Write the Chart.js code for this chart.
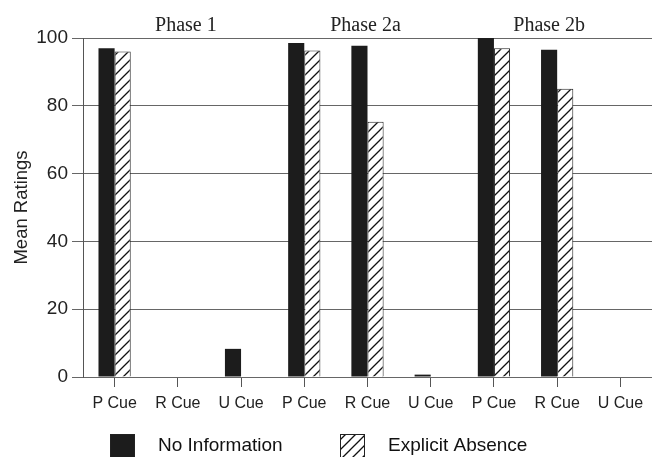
<!DOCTYPE html>
<html>
<head>
<meta charset="utf-8">
<script src="https://cdn.jsdelivr.net/npm/chart.js@4.4.0/dist/chart.umd.min.js"></script>
<style>
    html, body { margin: 0; padding: 0; background: #fff; }
    #wrap { width: 652px; height: 457px; position: relative; }
</style>
</head>
<body>
<div id="wrap"><canvas id="chart"></canvas></div>
<script>
var cueLabels = ['P Cue', 'R Cue', 'U Cue', 'P Cue', 'R Cue', 'U Cue', 'P Cue', 'R Cue', 'U Cue'];
var phaseLabels = ['Phase 1', 'Phase 2a', 'Phase 2b'];
var noInformation = [97, 0, 8.3, 98.5, 97.7, 0.7, 100, 96.5, 0];
var explicitAbsence = [96, 0, 0, 96.3, 75.3, 0, 97, 85, 0];
var yTicks = [0, 20, 40, 60, 80, 100];

var sansFont = '"Liberation Sans", Arial, sans-serif';

function makeHatch() {
    var c = document.createElement('canvas');
    c.width = 10;
    c.height = 10;
    var g = c.getContext('2d');
    g.fillStyle = '#fff';
    g.fillRect(0, 0, 10, 10);
    g.strokeStyle = '#111';
    g.lineWidth = 1.3;
    g.beginPath();
    g.moveTo(-1, 11); g.lineTo(11, -1);
    g.moveTo(-6, 6); g.lineTo(6, -6);
    g.moveTo(4, 16); g.lineTo(16, 4);
    g.stroke();
    return g.createPattern(c, 'repeat');
}

// phase titles above each group of three cues
var phasePlugin = {
    id: 'phaseTitles',
    afterDraw: function (chart) {
        var ctx = chart.ctx;
        var x = chart.scales.x;
        var shift = [8, -2, -8];
        ctx.save();
        ctx.font = '20px "Liberation Serif", "Times New Roman", serif';
        ctx.fillStyle = '#222';
        ctx.textAlign = 'center';
        ctx.textBaseline = 'alphabetic';
        for (var i = 0; i < phaseLabels.length; i++) {
            ctx.fillText(phaseLabels[i], x.getPixelForValue(i * 3 + 1) + shift[i], 31);
        }
        ctx.restore();
    }
};

// legend drawn under the axis, like the printed figure
var legendPlugin = {
    id: 'bottomLegend',
    afterDraw: function (chart) {
        var ctx = chart.ctx;
        var sets = chart.data.datasets;
        var boxX = [110, 340];
        ctx.save();
        ctx.font = '19px ' + sansFont;
        ctx.textBaseline = 'middle';
        for (var i = 0; i < sets.length; i++) {
            ctx.fillStyle = sets[i].backgroundColor;
            ctx.fillRect(boxX[i], 434, 25, 24);
            ctx.strokeStyle = '#222';
            ctx.lineWidth = 1;
            ctx.strokeRect(boxX[i] + 0.5, 434.5, 24, 23);
            ctx.fillStyle = '#111';
            ctx.fillText(sets[i].label, boxX[i] + 48, 446);
        }
        ctx.restore();
    }
};

var hatch = makeHatch();

new Chart(document.getElementById('chart').getContext('2d'), {
    type: 'bar',
    data: {
        labels: cueLabels,
        datasets: [
            {
                label: 'No Information',
                data: noInformation,
                backgroundColor: '#1c1c1c',
                borderColor: '#1c1c1c',
                borderWidth: 0
            },
            {
                label: 'Explicit Absence',
                data: explicitAbsence,
                backgroundColor: hatch,
                borderColor: '#222',
                borderWidth: 1
            }
        ]
    },
    options: {
        responsive: true,
        maintainAspectRatio: false,
        animation: false,
        devicePixelRatio: 1,
        layout: {
            padding: { top: 38, right: -5, left: 11, bottom: 44 }
        },
        datasets: {
            bar: {
                categoryPercentage: 0.51,
                barPercentage: 1
            }
        },
        plugins: {
            tooltip: { enabled: false },
            legend: { display: false }
        },
        scales: {
            x: {
                grid: {
                    drawOnChartArea: false,
                    drawTicks: true,
                    tickLength: 10,
                    offset: false,
                    color: '#555'
                },
                border: { display: false },
                ticks: {
                    color: '#222',
                    padding: 7,
                    maxRotation: 0,
                    autoSkip: false,
                    font: { family: sansFont, size: 16 }
                },
                afterFit: function (scale) {
                    scale.height = 36;
                }
            },
            y: {
                min: 0,
                max: 100,
                afterBuildTicks: function (scale) {
                    scale.ticks = yTicks.map(function (v) { return { value: v }; });
                },
                grid: {
                    color: '#666',
                    lineWidth: 1,
                    tickLength: 11
                },
                border: { display: true, color: '#555', width: 1 },
                ticks: {
                    color: '#222',
                    padding: 4,
                    font: { family: sansFont, size: 19 }
                },
                title: {
                    display: true,
                    text: 'Mean Ratings',
                    color: '#222',
                    padding: { top: 0, bottom: 4 },
                    font: { family: sansFont, size: 18.5 }
                },
                afterFit: function (scale) {
                    scale.width = 72;
                }
            }
        }
    },
    plugins: [phasePlugin, legendPlugin]
});
</script>
</body>
</html>
